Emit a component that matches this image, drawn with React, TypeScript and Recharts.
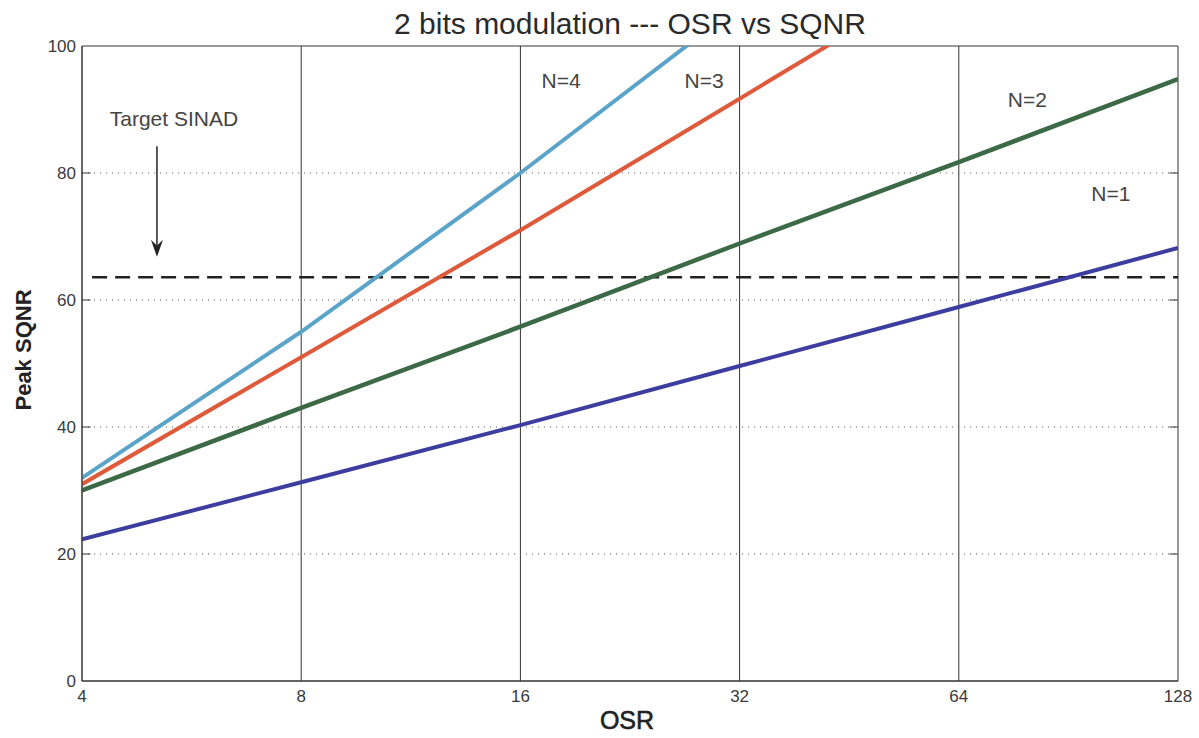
import React from "react";
import {
  Line,
  LineChart,
  ReferenceArea,
  ReferenceDot,
  ReferenceLine,
  XAxis,
  YAxis,
} from "recharts";

// OSR sample points (log2 axis) and tick values
const osrValues = [4, 8, 16, 32, 64, 128];
const yTicks = [0, 20, 40, 60, 80, 100];
const xGrid = [8, 16, 32, 64];
const yGrid = [20, 40, 60, 80];

// Peak SQNR, one array per modulator order
const sqnrN1 = [22.3, 31.3, 40.3, 49.6, 58.9, 68.2];
const sqnrN2 = [30.0, 43.0, 55.8, 68.9, 81.7, 94.8];
const sqnrN3 = [31.0, 51.0, 71.0, 91.7, 112.5, 133.0];
const sqnrN4 = [32.0, 55.0, 80.0, 106.4, 133.0, 160.0];

const targetSinad = 63.6;

const data = osrValues.map((osr, i) => ({
  osr,
  n1: sqnrN1[i],
  n2: sqnrN2[i],
  n3: sqnrN3[i],
  n4: sqnrN4[i],
}));

const W = 1199;
const H = 738;
const axisColor = "#333";
const font = "'Liberation Sans', Arial, sans-serif";

const tickStyle = { fontSize: 17, fill: "#3a3a3a", fontFamily: font };
const noteStyle = { fontSize: 21, fill: "#444", fontFamily: font };

const seriesColors = {
  n1: "#3c3d9e",
  n2: "#3c6a46",
  n3: "#de5a3b",
  n4: "#5ba4c9",
};

const labels = [
  { text: "N=4", x: 18.2, y: 94.5 },
  { text: "N=3", x: 28.6, y: 94.5 },
  { text: "N=2", x: 79.5, y: 91.6 },
  { text: "N=1", x: 103.5, y: 76.8 },
  { text: "Target SINAD", x: 5.35, y: 88.6 },
];

const arrowX = 5.07;
// inner tick mark length, in OSR units at each edge of the log axis
const tickInLeft = 4.11;
const tickInRight = 124.6;

export default function App() {
  return (
    <div style={{ position: "absolute", left: 0, top: 0, width: W, height: H, background: "#fff" }}>
      <LineChart
        width={W}
        height={H}
        data={data}
        margin={{ top: 46, right: 21, bottom: 27, left: 42 }}
      >
        <XAxis
          dataKey="osr"
          type="number"
          scale="log"
          domain={[4, 128]}
          ticks={osrValues}
          allowDataOverflow
          height={30}
          tickLine={false}
          tickSize={0}
          tickMargin={9}
          tick={tickStyle}
          stroke={axisColor}
        />
        <YAxis
          type="number"
          domain={[0, 100]}
          ticks={yTicks}
          allowDataOverflow
          width={40}
          tickLine={false}
          tickSize={0}
          tickMargin={6}
          tick={tickStyle}
          stroke={axisColor}
        />

        {xGrid.map((v) => (
          <ReferenceLine key={"x" + v} x={v} stroke={axisColor} strokeWidth={1} />
        ))}
        {yGrid.map((v) => (
          <ReferenceLine key={"y" + v} y={v} stroke="#555" strokeWidth={1} strokeDasharray="1 5" />
        ))}
        {yGrid.map((v) => (
          <ReferenceLine
            key={"tl" + v}
            segment={[
              { x: 4, y: v },
              { x: tickInLeft, y: v },
            ]}
            stroke={axisColor}
            strokeWidth={1}
          />
        ))}
        {yGrid.map((v) => (
          <ReferenceLine
            key={"tr" + v}
            segment={[
              { x: tickInRight, y: v },
              { x: 128, y: v },
            ]}
            stroke={axisColor}
            strokeWidth={1}
          />
        ))}
        <ReferenceArea x1={4} x2={128} y1={0} y2={100} fill="none" fillOpacity={0} stroke={axisColor} strokeWidth={1} />

        <ReferenceLine
          segment={[
            { x: 4.13, y: targetSinad },
            { x: 128, y: targetSinad },
          ]}
          stroke="#222"
          strokeWidth={2.5}
          strokeDasharray="15 8"
        />

        <Line dataKey="n1" stroke={seriesColors.n1} strokeWidth={4} dot={false} isAnimationActive={false} />
        <Line dataKey="n2" stroke={seriesColors.n2} strokeWidth={4.5} dot={false} isAnimationActive={false} />
        <Line dataKey="n3" stroke={seriesColors.n3} strokeWidth={4} dot={false} isAnimationActive={false} />
        <Line dataKey="n4" stroke={seriesColors.n4} strokeWidth={4} dot={false} isAnimationActive={false} />

        <ReferenceLine
          segment={[
            { x: arrowX, y: 84.2 },
            { x: arrowX, y: 68.5 },
          ]}
          stroke="#222"
          strokeWidth={1.5}
        />
        <ReferenceDot
          x={arrowX}
          y={66.8}
          r={0}
          shape={(p: any) => (
            <path
              d={`M${p.cx - 6},${p.cy - 17} L${p.cx},${p.cy} L${p.cx + 6},${p.cy - 17} L${p.cx},${p.cy - 11} Z`}
              fill="#222"
            />
          )}
        />

        {labels.map((l) => (
          <ReferenceDot
            key={l.text}
            x={l.x}
            y={l.y}
            r={0}
            fill="none"
            stroke="none"
            label={{ value: l.text, position: "center", ...noteStyle }}
          />
        ))}
      </LineChart>

      <svg
        width={W}
        height={H}
        style={{ position: "absolute", left: 0, top: 0, pointerEvents: "none" }}
      >
        <text x={630} y={34} textAnchor="middle" fontSize={30} fill="#2a2a2a" fontFamily={font}>
          2 bits modulation --- OSR vs SQNR
        </text>
        <text x={627} y={729} textAnchor="middle" fontSize={25} fill="#222" stroke="#222" strokeWidth={0.6} fontFamily={font}>
          OSR
        </text>
        <text
          x={31}
          y={350}
          textAnchor="middle"
          fontSize={22}
          fontWeight={600}
          fill="#222"
          fontFamily={font}
          transform="rotate(-90, 31, 350)"
        >
          Peak SQNR
        </text>
      </svg>
    </div>
  );
}
